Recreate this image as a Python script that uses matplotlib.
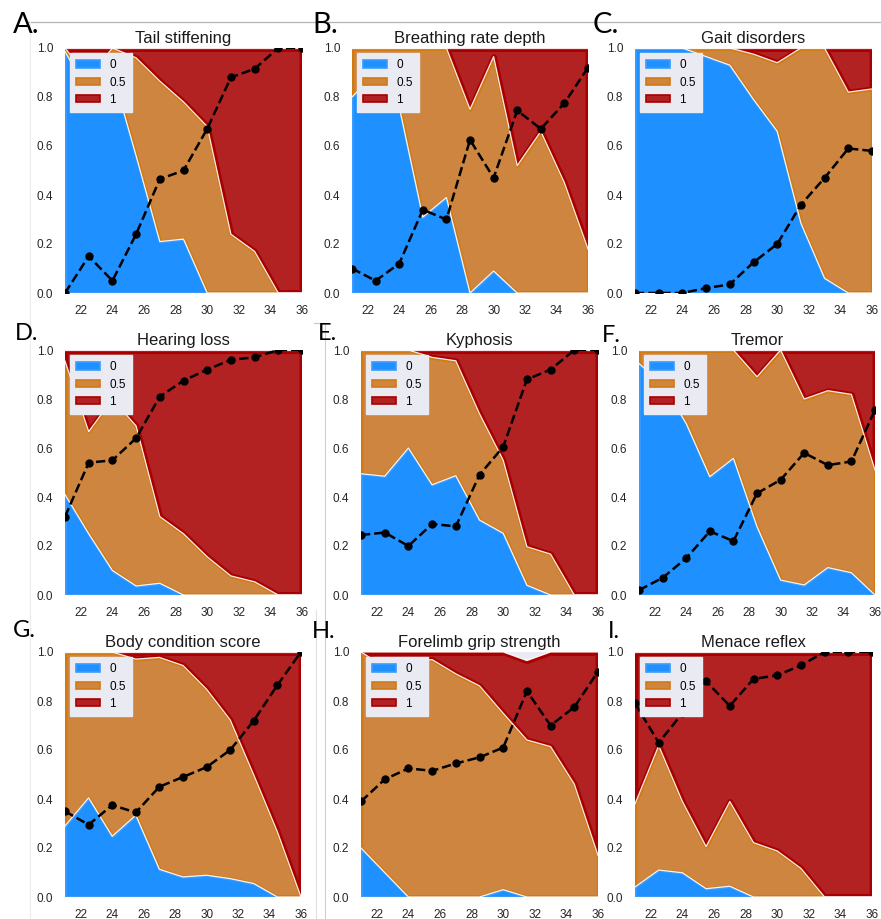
import matplotlib
matplotlib.use("Agg")
import matplotlib.pyplot as plt
from matplotlib.patches import Patch
from matplotlib.lines import Line2D
import numpy as np

# ---------------- data ----------------
ages = [21, 22.5, 24, 25.5, 27, 28.5, 30, 31.5, 33, 34.5, 36]
xticks = [22, 24, 26, 28, 30, 32, 34, 36]
yticks = [0.0, 0.2, 0.4, 0.6, 0.8, 1.0]
score_labels = ["0", "0.5", "1"]
titles = ["Tail stiffening", "Breathing rate depth", "Gait disorders",
          "Hearing loss", "Kyphosis", "Tremor",
          "Body condition score", "Forelimb grip strength", "Menace reflex"]
letters = ["A.", "B.", "C.", "D.", "E.", "F.", "G.", "H.", "I."]

# share of animals with score 0 / 0.5 / 1 at each age, and mean score
tail_s0 = [0.985, 0.82, 0.90, 0.56, 0.21, 0.22, 0.0, 0.0, 0.0, 0.0, 0.0]
tail_s05 = [0.015, 0.06, 0.10, 0.40, 0.655, 0.56, 0.68, 0.24, 0.17, 0.0, 0.0]
tail_s1 = [0.0, 0.12, 0.0, 0.04, 0.135, 0.22, 0.32, 0.76, 0.83, 1.0, 1.0]
tail_mean = [0.0, 0.15, 0.05, 0.24, 0.465, 0.50, 0.67, 0.88, 0.915, 1.0, 1.0]

breath_s0 = [0.80, 0.90, 0.76, 0.31, 0.39, 0.0, 0.09, 0.0, 0.0, 0.0, 0.0]
breath_s05 = [0.20, 0.10, 0.24, 0.69, 0.61, 0.75, 0.875, 0.52, 0.66, 0.45, 0.18]
breath_s1 = [0.0, 0.0, 0.0, 0.0, 0.0, 0.25, 0.035, 0.48, 0.34, 0.55, 0.82]
breath_mean = [0.10, 0.05, 0.12, 0.34, 0.30, 0.625, 0.47, 0.745, 0.67, 0.775, 0.92]

gait_s0 = [1.0, 1.0, 1.0, 0.965, 0.93, 0.79, 0.66, 0.285, 0.06, 0.0, 0.0]
gait_s05 = [0.0, 0.0, 0.0, 0.035, 0.07, 0.185, 0.28, 0.715, 0.94, 0.82, 0.833]
gait_s1 = [0.0, 0.0, 0.0, 0.0, 0.0, 0.025, 0.06, 0.0, 0.0, 0.18, 0.167]
gait_mean = [0.0, 0.0, 0.0, 0.02, 0.035, 0.125, 0.20, 0.36, 0.47, 0.59, 0.58]

hear_s0 = [0.41, 0.25, 0.10, 0.037, 0.048, 0.0, 0.0, 0.0, 0.0, 0.0, 0.0]
hear_s05 = [0.545, 0.417, 0.70, 0.653, 0.272, 0.25, 0.156, 0.078, 0.054, 0.0, 0.0]
hear_s1 = [0.045, 0.333, 0.20, 0.31, 0.68, 0.75, 0.844, 0.922, 0.946, 1.0, 1.0]
hear_mean = [0.32, 0.54, 0.55, 0.64, 0.81, 0.875, 0.92, 0.96, 0.97, 1.0, 1.0]

kyph_s0 = [0.495, 0.485, 0.60, 0.45, 0.487, 0.306, 0.252, 0.04, 0.0, 0.0, 0.0]
kyph_s05 = [0.505, 0.515, 0.40, 0.52, 0.469, 0.434, 0.298, 0.157, 0.167, 0.0, 0.0]
kyph_s1 = [0.0, 0.0, 0.0, 0.03, 0.044, 0.26, 0.45, 0.803, 0.833, 1.0, 1.0]
kyph_mean = [0.245, 0.255, 0.20, 0.29, 0.28, 0.49, 0.605, 0.88, 0.92, 1.0, 1.0]

trem_s0 = [0.945, 0.86, 0.70, 0.483, 0.558, 0.279, 0.061, 0.041, 0.112, 0.091, 0.0]
trem_s05 = [0.055, 0.14, 0.30, 0.517, 0.442, 0.612, 0.939, 0.759, 0.722, 0.728, 0.51]
trem_s1 = [0.0, 0.0, 0.0, 0.0, 0.0, 0.109, 0.0, 0.20, 0.166, 0.181, 0.49]
trem_mean = [0.02, 0.07, 0.15, 0.26, 0.22, 0.415, 0.47, 0.58, 0.53, 0.545, 0.755]

body_s0 = [0.29, 0.405, 0.248, 0.334, 0.113, 0.082, 0.089, 0.075, 0.055, 0.0, 0.0]
body_s05 = [0.71, 0.595, 0.752, 0.637, 0.865, 0.863, 0.759, 0.648, 0.443, 0.266, 0.0]
body_s1 = [0.0, 0.0, 0.0, 0.029, 0.022, 0.055, 0.152, 0.277, 0.502, 0.734, 1.0]
body_mean = [0.35, 0.295, 0.375, 0.345, 0.45, 0.49, 0.53, 0.60, 0.72, 0.865, 1.0]

grip_s0 = [0.20, 0.10, 0.0, 0.0, 0.0, 0.0, 0.03, 0.0, 0.0, 0.0, 0.0]
grip_s05 = [0.80, 0.84, 0.96, 0.969, 0.911, 0.862, 0.72, 0.641, 0.614, 0.461, 0.17]
grip_s1 = [0.0, 0.06, 0.04, 0.031, 0.089, 0.138, 0.25, 0.324, 0.386, 0.539, 0.83]
grip_mean = [0.39, 0.48, 0.525, 0.515, 0.545, 0.57, 0.61, 0.84, 0.70, 0.775, 0.92]

menace_s0 = [0.041, 0.11, 0.099, 0.034, 0.044, 0.0, 0.0, 0.0, 0.0, 0.0, 0.0]
menace_s05 = [0.339, 0.508, 0.291, 0.172, 0.346, 0.222, 0.188, 0.117, 0.0, 0.0, 0.0]
menace_s1 = [0.62, 0.382, 0.61, 0.794, 0.61, 0.778, 0.812, 0.883, 1.0, 1.0, 1.0]
menace_mean = [0.79, 0.63, 0.75, 0.88, 0.78, 0.89, 0.905, 0.945, 1.0, 1.0, 1.0]

panels = [
    (tail_s0, tail_s05, tail_s1, tail_mean),
    (breath_s0, breath_s05, breath_s1, breath_mean),
    (gait_s0, gait_s05, gait_s1, gait_mean),
    (hear_s0, hear_s05, hear_s1, hear_mean),
    (kyph_s0, kyph_s05, kyph_s1, kyph_mean),
    (trem_s0, trem_s05, trem_s1, trem_mean),
    (body_s0, body_s05, body_s1, body_mean),
    (grip_s0, grip_s05, grip_s1, grip_mean),
    (menace_s0, menace_s05, menace_s1, menace_mean),
]

# ---------------- style ----------------
W, H = 881, 919
face_colors = ["#1E90FF", "#CD853F", "#B22222"]
edge_colors = ["#3A9BFF", "#D27A12", "#A80000"]
edge_widths = [2.0, 2.6, 4.2]
bg = "#EAEAF2"
font = ["Liberation Sans", "DejaVu Sans"]
plt.rcParams["font.family"] = font

# axes boxes in pixels: (left, right, top, bottom)
rows = [(48, 293), (350, 595), (652, 897)]
cols = [[(65, 302), (352, 588), (635, 872)],
        [(65, 302), (361, 598), (639, 875)],
        [(65, 301), (361, 598), (635, 872)]]
letter_pos = [(13, 33, 21), (312, 33, 21), (593, 33, 21),
              (15, 340, 17), (318, 340, 17), (602, 342, 17),
              (13, 637, 17), (312, 638, 17), (608, 638, 17)]

fig = plt.figure(figsize=(W / 100, H / 100), dpi=100)
fig.patch.set_facecolor("white")

# faint separator lines of the composed figure
def fig_line(xs, ys, color, lw=1.0):
    fig.add_artist(Line2D([x / W for x in xs], [1 - y / H for y in ys],
                          color=color, lw=lw, transform=fig.transFigure, zorder=0))

fig_line([28, 881], [21.5, 21.5], "#b4b4b4", 0.9)
fig_line([30, 30], [21.5, 919], "#ececec", 0.8)
fig_line([314, 325], [322.5, 322.5], "#c8c8c8", 0.8)
fig_line([325, 325], [322.5, 919], "#cfcfcf", 0.8)
fig_line([316, 316], [610, 919], "#e0e0e0", 0.8)

for i, (s0, s05, s1, mean) in enumerate(panels):
    r, c = divmod(i, 3)
    top, bot = rows[r]
    left, right = cols[r][c]
    ax = fig.add_axes([left / W, 1 - bot / H, (right - left) / W, (bot - top) / H])
    ax.set_facecolor(bg)
    for sp in ax.spines.values():
        sp.set_visible(False)

    polys = ax.stackplot(ages, s0, s05, s1, colors=face_colors)
    for k, pc in enumerate(polys):
        pc.set_edgecolor(edge_colors[k])
        pc.set_linewidth(edge_widths[k])
        pc.set_alpha(None)
        path = pc.get_paths()[0]
        pc.set_clip_path(path, ax.transData)
    cum0 = np.array(s0)
    cum1 = cum0 + np.array(s05)
    cum2 = cum1 + np.array(s1)
    for cum in (cum0, cum1, cum2):
        ax.plot(ages, cum, color="white", lw=0.9, alpha=0.9, zorder=3)

    ax.plot(ages, mean, color="black", ls="--", lw=1.8, marker="o",
            markersize=5, zorder=5)

    ax.set_xlim(21, 36)
    ax.set_ylim(0, 1)
    ax.set_xticks(xticks)
    ax.set_xticklabels([str(t) for t in xticks])
    ax.set_yticks(yticks)
    ax.set_yticklabels([f"{t:.1f}" for t in yticks])
    ax.tick_params(length=0, labelsize=8.5, pad=8.5, colors="#262626")
    ax.grid(False)
    ax.set_title(titles[i], fontsize=12, pad=3.8, color="#1a1a1a")

    handles = [Patch(facecolor=face_colors[k], edgecolor=edge_colors[k], lw=1.2)
               for k in range(3)]
    leg = ax.legend(handles, score_labels, loc="upper left", fontsize=8.5,
                    frameon=True, facecolor=bg, edgecolor=bg, framealpha=1.0,
                    handlelength=2.0, handleheight=0.6, labelspacing=0.45,
                    borderaxespad=0.45, fancybox=False, borderpad=0.5)
    leg.set_zorder(10)

    lx, ly, ls = letter_pos[i]
    fig.text(lx / W, 1 - ly / H, letters[i], fontsize=ls, family=["Lato", "DejaVu Sans"],
             ha="left", va="baseline", color="black")

fig.savefig("out.png", dpi=100, facecolor="white")
